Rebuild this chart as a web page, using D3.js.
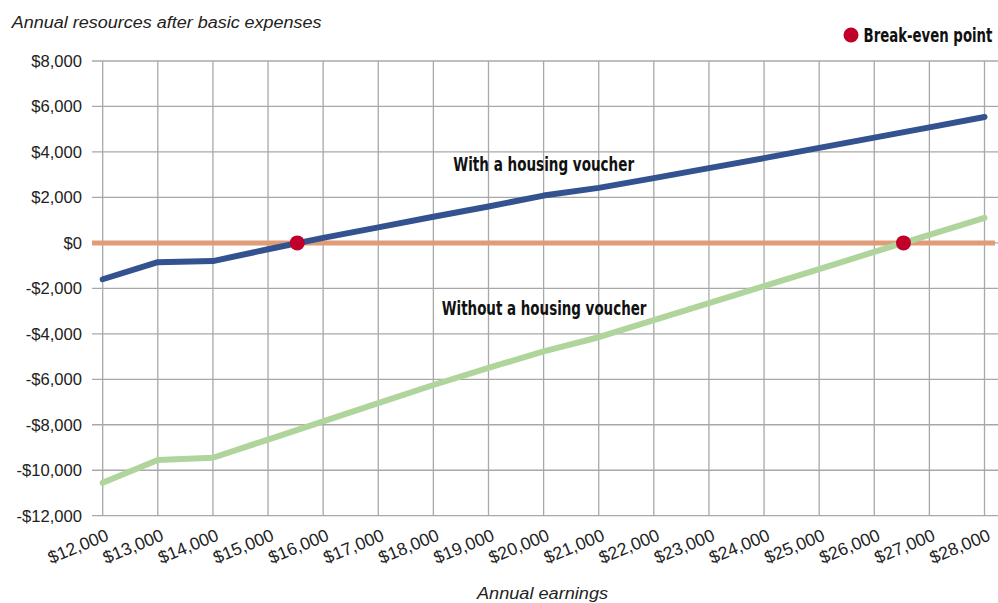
<!DOCTYPE html>
<html>
<head>
<meta charset="utf-8">
<script src="https://cdn.jsdelivr.net/npm/d3@7"></script>
<style>
  html, body { margin: 0; padding: 0; background: #fff; }
  svg { display: block; }
</style>
</head>
<body>
<svg id="chart" width="998" height="603"></svg>
<script>
const earnings = [12000,13000,14000,15000,16000,17000,18000,19000,20000,21000,22000,23000,24000,25000,26000,27000,28000];
const withVoucher = [-1600,-850,-800,-280,220,680,1150,1600,2080,2420,2850,3290,3730,4180,4630,5080,5540];
const withoutVoucher = [-10550,-9550,-9450,-8650,-7850,-7050,-6250,-5500,-4770,-4150,-3400,-2650,-1900,-1150,-400,350,1100];
const breakEven = [15530, 26530];
const yTicks = [8000,6000,4000,2000,0,-2000,-4000,-6000,-8000,-10000,-12000];
const yTitle = "Annual resources after basic expenses";
const xTitle = "Annual earnings";
const seriesLabels = ["With a housing voucher", "Without a housing voucher"];
const legendLabel = "Break-even point";

const svg = d3.select("#chart");
const x = d3.scaleLinear().domain([12000, 28000]).range([102.7, 984.5]);
const y = d3.scaleLinear().domain([-12000, 8000]).range([515.7, 61]);

const fmt = v => (v < 0 ? "-$" : "$") + d3.format(",")(Math.abs(v));
const gridColor = "#a8a8a8";
const sansFont = "'Liberation Sans', Arial, sans-serif";
const boldFont = "'DejaVu Sans Condensed', 'Liberation Sans', sans-serif";

// helper: place text starting at (x0, baseline) squeezed to a target width
function fitText(g, x0, yb, width, txt, attrs) {
  const t = g.append("text").attr("x", 0).attr("y", 0).text(txt);
  Object.entries(attrs).forEach(([k, v]) => t.attr(k, v));
  const w = t.node().getComputedTextLength();
  t.attr("transform", `translate(${x0},${yb}) scale(${width / w},1)`);
  return t;
}

// horizontal gridlines
svg.append("g").selectAll("line").data(yTicks).join("line")
  .attr("x1", 92).attr("x2", 998)
  .attr("y1", d => y(d)).attr("y2", d => y(d))
  .attr("stroke", gridColor).attr("stroke-width", 1.3);

// vertical gridlines
svg.append("g").selectAll("line").data(earnings).join("line")
  .attr("x1", d => x(d)).attr("x2", d => x(d))
  .attr("y1", y(8000)).attr("y2", y(-12000))
  .attr("stroke", gridColor).attr("stroke-width", 1.3);

// y tick labels
svg.append("g").selectAll("text").data(yTicks).join("text")
  .attr("x", 82).attr("y", d => y(d) + 5.8)
  .attr("text-anchor", "end")
  .attr("font-family", sansFont)
  .attr("font-size", 16.6)
  .attr("fill", "#222")
  .text(fmt);

// x tick labels
svg.append("g").selectAll("text").data(earnings).join("text")
  .attr("transform", d => `translate(${x(d) + 7},${y(-12000) + 24}) rotate(-22.5)`)
  .attr("text-anchor", "end")
  .attr("font-family", sansFont)
  .attr("font-size", 17.6)
  .attr("fill", "#222")
  .text(fmt);

// zero line
svg.append("line")
  .attr("x1", 92).attr("x2", 995)
  .attr("y1", y(0)).attr("y2", y(0))
  .attr("stroke", "#e09c77").attr("stroke-width", 5);

const line = d3.line().x((d, i) => x(earnings[i])).y(d => y(d));

svg.append("path").datum(withoutVoucher)
  .attr("d", line)
  .attr("fill", "none").attr("stroke", "#afd49c")
  .attr("stroke-width", 6).attr("stroke-linecap", "round").attr("stroke-linejoin", "round");

svg.append("path").datum(withVoucher)
  .attr("d", line)
  .attr("fill", "none").attr("stroke", "#34528f")
  .attr("stroke-width", 6).attr("stroke-linecap", "round").attr("stroke-linejoin", "round");

// break-even points
svg.append("g").selectAll("circle").data(breakEven).join("circle")
  .attr("cx", d => x(d)).attr("cy", y(0)).attr("r", 7.5)
  .attr("fill", "#c0002b");

const boldAttrs = { "font-family": boldFont, "font-weight": "bold", "font-size": 19, "fill": "#111" };
const italAttrs = { "font-family": sansFont, "font-style": "italic", "font-size": 17.4, "fill": "#222" };

// series labels
fitText(svg, 453.3, 170.7, 181, seriesLabels[0], boldAttrs);
fitText(svg, 441.7, 315.2, 205, seriesLabels[1], boldAttrs);

// legend
svg.append("circle").attr("cx", 851).attr("cy", 35).attr("r", 7.5).attr("fill", "#c0002b");
fitText(svg, 863.5, 42, 129, legendLabel, boldAttrs);

// axis titles
fitText(svg, 11.7, 28.3, 310, yTitle, italAttrs);
fitText(svg, 477, 598.5, 131, xTitle, italAttrs);
</script>
</body>
</html>
